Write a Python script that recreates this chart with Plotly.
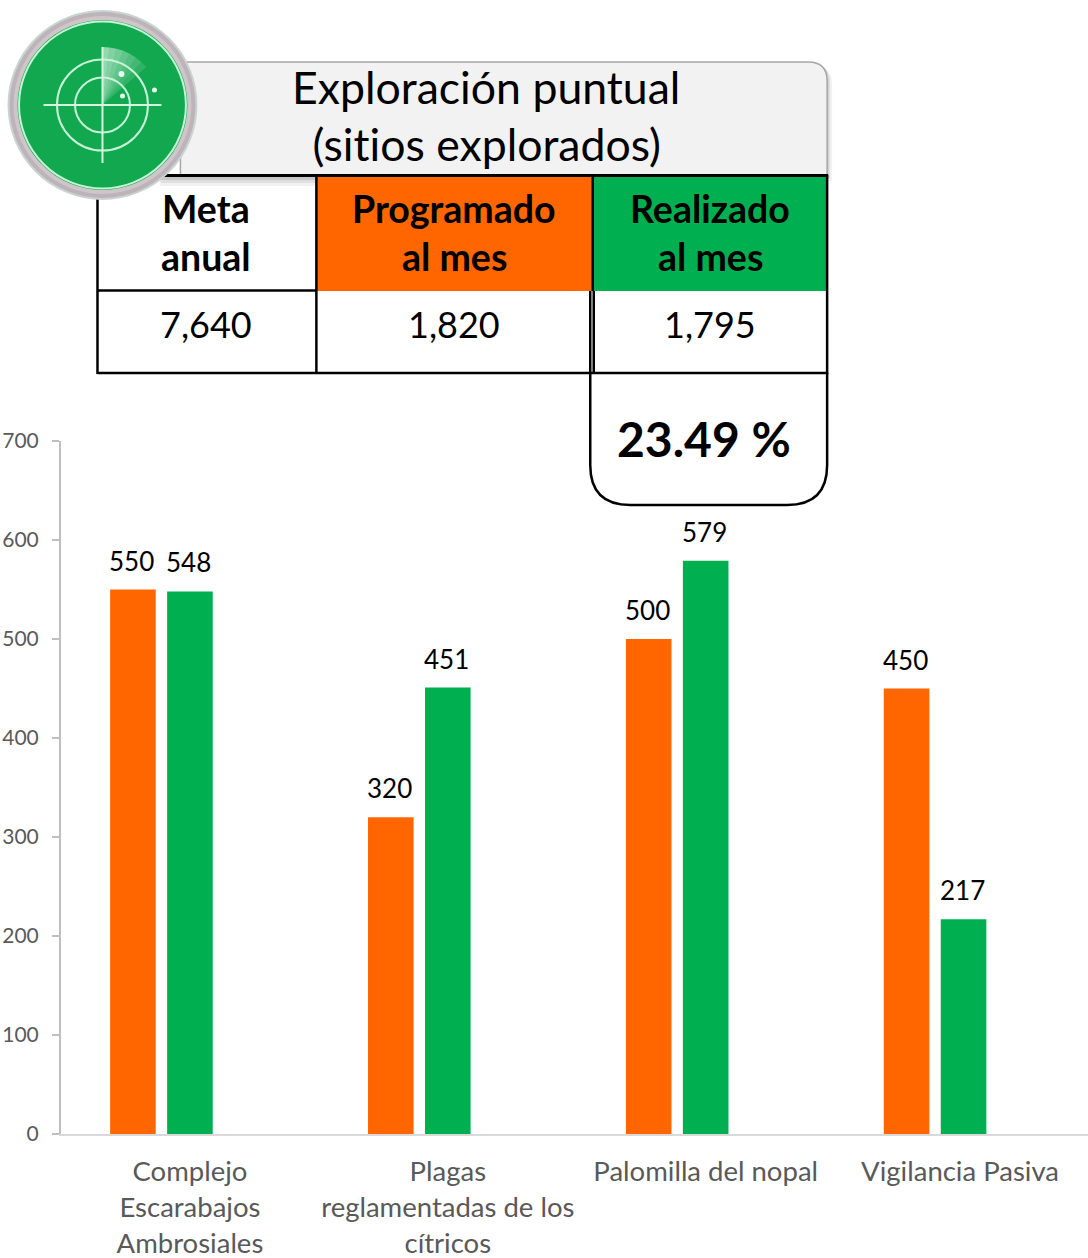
import math
import plotly.graph_objects as go

categories = ["Complejo<br>Escarabajos<br>Ambrosiales", "Plagas<br>reglamentadas de los<br>cítricos",
              "Palomilla del nopal", "Vigilancia Pasiva\u00a0"]
programado = [550, 320, 500, 450]
realizado = [548, 451, 579, 217]
y_ticks = [0, 100, 200, 300, 400, 500, 600, 700]
title_lines = ["Exploración puntual", "(sitios explorados)"]
headers = ["Meta<br>anual", "Programado<br>al mes", "Realizado<br>al mes"]
table_values = ["7,640", "1,820", "1,795"]
percent = "23.49 %"

ORANGE = "#FF6600"
GREEN = "#00B050"
FONT = "Lato"

W, H = 1088, 1258
L, B, T = 60.5, 124, 441
PW, PH = W - L, H - B - T


def px(x):
    return (x - L) / PW


def py(y):
    return (H - B - y) / PH


def P(x, y):
    return f"{px(x):.5f},{py(y):.5f}"


def path(cmds):
    out = []
    for c in cmds:
        if c == "Z":
            out.append("Z")
        else:
            op, *pts = c
            out.append(op + " ".join(P(*p) for p in pts))
    return " ".join(out)


shapes, annots = [], []


def add_path(cmds, fill=None, line=None, width=0, opacity=1.0):
    shapes.append(dict(type="path", xref="paper", yref="paper", path=path(cmds),
                       fillcolor=fill or "rgba(0,0,0,0)", opacity=opacity, layer="above",
                       line=dict(color=line or "rgba(0,0,0,0)", width=width)))


def rect(x0, y0, x1, y1, fill=None, line=None, width=0):
    shapes.append(dict(type="rect", xref="paper", yref="paper", x0=px(x0), x1=px(x1), y0=py(y0), y1=py(y1),
                       fillcolor=fill or "rgba(0,0,0,0)", layer="above",
                       line=dict(color=line or "rgba(0,0,0,0)", width=width)))


def hline(x0, x1, y, color="#000000", width=2.5):
    shapes.append(dict(type="line", xref="paper", yref="paper", x0=px(x0), x1=px(x1), y0=py(y), y1=py(y),
                       layer="above", line=dict(color=color, width=width)))


def vline(x, y0, y1, color="#000000", width=2.5):
    shapes.append(dict(type="line", xref="paper", yref="paper", x0=px(x), x1=px(x), y0=py(y0), y1=py(y1),
                       layer="above", line=dict(color=color, width=width)))


def circle(cx, cy, r, fill=None, line=None, width=0, opacity=1.0):
    shapes.append(dict(type="circle", xref="paper", yref="paper", x0=px(cx - r), x1=px(cx + r),
                       y0=py(cy + r), y1=py(cy - r), opacity=opacity, layer="above",
                       fillcolor=fill or "rgba(0,0,0,0)",
                       line=dict(color=line or "rgba(0,0,0,0)", width=width)))


def label(x, y, text, size, bold=False, color="#000000"):
    annots.append(dict(xref="paper", yref="paper", x=px(x), y=py(y), text=f"<b>{text}</b>" if bold else text,
                       showarrow=False, xanchor="center", yanchor="middle", align="center",
                       font=dict(family=FONT, size=size, color=color)))


# header shadow and box
for off, op in [(5, 0.10), (3, 0.15), (1.5, 0.2)]:
    add_path([("M", (180, 61 + off)), ("L", (808 + off, 61 + off)), ("Q", (827 + off, 61 + off), (827 + off, 80 + off)),
              ("L", (827 + off, 176 + off)), ("L", (180, 176 + off)), "Z"], fill="#7f7f7f", opacity=op)
add_path([("M", (180, 62)), ("L", (808, 62)), ("Q", (827, 62), (827, 81)), ("L", (827, 175)), ("L", (180, 175)), "Z"],
         fill="#F2F2F2", line="#A6A6A6", width=1.5)
rect(97, 176, 827, 374, fill="#FFFFFF")
for off, op in [(9, 0.08), (6, 0.12), (3, 0.18)]:
    rect(160, 177, 316, 177 + off, fill=f"rgba(90,90,90,{op})")

# table fills
rect(316, 176, 592, 291, fill=ORANGE)
rect(593, 176, 827, 291, fill=GREEN)

# percentage box
add_path([("M", (590, 373)), ("L", (590, 465)), ("Q", (590, 505), (630, 505)), ("L", (787, 505)),
          ("Q", (827, 505), (827, 465)), ("L", (827, 373))], line="#000000", width=2.5)

# table lines
hline(97, 828, 175.5, width=3)
hline(97, 316, 290.5)
hline(97, 828, 373)
vline(97, 175, 374)
vline(316, 175, 374)
vline(592.5, 175, 291)
vline(590, 291, 373)
vline(593.5, 291, 373)
vline(827, 175, 374)

# radar icon
circle(102, 105, 94, fill="#BDB3B8", line="#C9D4D0", width=2)
circle(102, 105, 89, fill="#CFC6CA")
circle(102, 105, 85, fill="#12A84F")
circle(102, 105, 83.5, line="#C6F2D6", width=2)
for i in range(7):
    a0, a1 = math.radians(i * 7), math.radians((i + 1) * 7)
    r = 58
    add_path([("M", (102, 105)), ("L", (102 + r * math.sin(a0), 105 - r * math.cos(a0))),
              ("L", (102 + r * math.sin(a1), 105 - r * math.cos(a1))), "Z"],
             fill="#FFFFFF", opacity=0.55 - i * 0.07)
circle(102, 105, 45.5, line="#C6F2D6", width=2)
circle(102, 105, 27.5, line="#C6F2D6", width=2)
hline(43, 161, 105, color="#D6F5E1", width=2)
vline(102, 47, 163, color="#D6F5E1", width=2)
for dx, dy, dr in [(121, 74, 3), (154, 90, 2.5), (122, 96, 2.5)]:
    circle(dx, dy, dr, fill="#E6FAEE")

# texts
for line_text, y in zip(title_lines, [86, 143]):
    label(486, y, line_text, 44.6)
for hdr, x, val in zip(headers, [206, 454, 710], table_values):
    a, b = hdr.split("<br>")
    label(x, 209, a, 37.5, bold=True)
    label(x, 256.5, b, 37.5, bold=True)
    label(x, 324, val, 36)
label(704, 438, percent, 48, bold=True)

SLOT = 57
xs = list(range(len(categories)))
for i, x in enumerate(xs):
    for vals, shift in [(programado, -SLOT - 1), (realizado, -1)]:
        annots.append(dict(xref="x", yref="y", x=categories[x], y=vals[i], text=str(vals[i]), xshift=shift, yshift=29,
                           showarrow=False, xanchor="center", yanchor="middle",
                           font=dict(family=FONT, size=26, color="#000000")))

fig = go.Figure()
fig.add_bar(x=categories, y=programado, name="Programado", marker=dict(color=ORANGE, line_width=0), cliponaxis=False)
fig.add_bar(x=categories, y=realizado, name="Realizado", marker=dict(color=GREEN, line_width=0), cliponaxis=False)
fig.add_bar(x=categories, y=[None] * 4, name="", marker=dict(color="rgba(0,0,0,0)"), showlegend=False)

fig.update_layout(
    width=W, height=H, autosize=False, showlegend=False,
    margin=dict(l=L, r=0, t=T, b=B, pad=0, autoexpand=False),
    paper_bgcolor="#FFFFFF", plot_bgcolor="#FFFFFF",
    barmode="group", bargap=0.337, bargroupgap=0.2,
    font=dict(family=FONT),
    shapes=shapes, annotations=annots,
    xaxis=dict(type="category", range=[-0.5, -0.5 + PW / 258], showgrid=False, zeroline=False, automargin=False,
               showline=True, linecolor="#D9D9D9", linewidth=2, ticks="",
               tickangle=0, tickfont=dict(family=FONT, size=27.5, color="#595959"), ticklabelstandoff=12),
    yaxis=dict(range=[0, 700], tickvals=y_ticks, showgrid=False, zeroline=False, automargin=False,
               showline=True, linecolor="#BFBFBF", linewidth=2, ticks="outside", ticklen=7, tickcolor="#BFBFBF",
               tickwidth=1.5, tickformat="d", tickfont=dict(family=FONT, size=21, color="#595959"),
               ticklabelstandoff=9),
)

fig.write_html("out.html", config=dict(displayModeBar=False),
               post_script="document.body.style.margin='0';document.body.style.overflow='hidden';"
                           "var s=document.createElement('style');"
                           "s.textContent='text{font-variant-ligatures:none!important;"
                           "font-feature-settings:\"liga\" 0,\"clig\" 0!important}';"
                           "document.head.appendChild(s);")
